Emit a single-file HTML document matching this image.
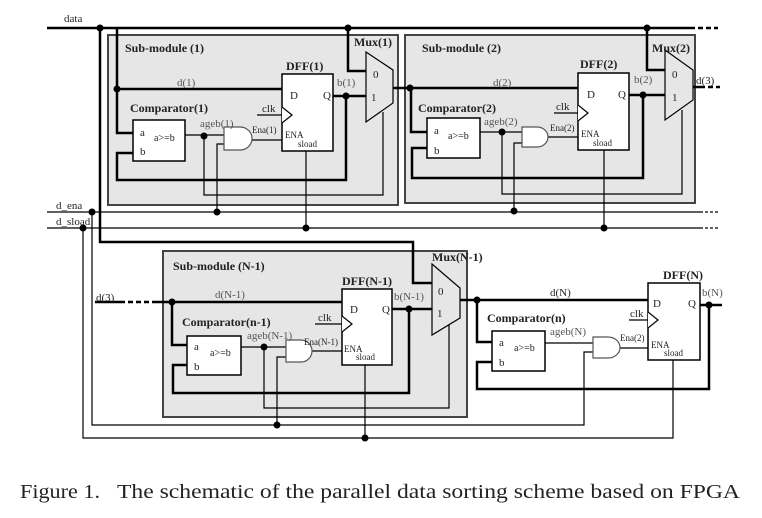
<!DOCTYPE html>
<html><head><meta charset="utf-8"><style>
html,body{margin:0;padding:0;background:#fff;}
svg{display:block;}
text{font-family:"Liberation Serif","Times New Roman",Times,serif;fill:#222;}
.b{font-weight:bold;font-size:12px;}
.s{font-size:11px;}
.g{fill:#555;}
</style></head><body>
<svg width="762" height="518" viewBox="0 0 762 518" xmlns="http://www.w3.org/2000/svg" font-family="Liberation Serif, Times New Roman, serif">
<g fill="#e6e6e6" stroke="#444" stroke-width="2">
<rect x="108" y="35" width="290" height="170"/>
<rect x="405" y="35" width="290" height="168"/>
<rect x="163" y="251" width="304" height="166"/>
</g>
<g fill="none" stroke="#000" stroke-width="2.5">
<line x1="47" y1="28" x2="690" y2="28"/>
<polyline points="100,28 100,242 413,242 413,283 432,283"/>
<polyline points="117,28 117,133 133,133"/>
<line x1="117" y1="89" x2="282" y2="89"/>
<polyline points="348,28 348,71 366,71"/>
<polyline points="333,96 366,96"/>
<polyline points="346,96 346,180 117,180 117,153 133,153"/>
<polyline points="393,88 411,88 578,88"/>
<polyline points="411,88 411,132 427,132"/>
<polyline points="647,28 647,70 665,70"/>
<line x1="629" y1="95" x2="665" y2="95"/>
<polyline points="643,95 643,178 412,178 412,148 427,148"/>
<line x1="693" y1="87" x2="700" y2="87"/>
<line x1="95" y1="302" x2="120" y2="302"/>
<line x1="152" y1="302" x2="342" y2="302"/>
<polyline points="172,302 172,345 187,345"/>
<line x1="392" y1="309" x2="432" y2="309"/>
<polyline points="409,309 409,393 173,393 173,365 187,365"/>
<line x1="460" y1="300" x2="648" y2="300"/>
<polyline points="477,300 477,342 492,342"/>
<line x1="700" y1="305" x2="722" y2="305"/>
<polyline points="709,305 709,389 477,389 477,362 492,362"/>
</g>
<g stroke="#000" stroke-width="2.5" stroke-dasharray="5,3">
<line x1="690" y1="28" x2="718" y2="28"/>
<line x1="700" y1="87" x2="720" y2="87"/>
<line x1="120" y1="302" x2="152" y2="302"/>
</g>
<g fill="none" stroke="#000" stroke-width="1.2">
<line x1="47" y1="212" x2="700" y2="212"/>
<line x1="47" y1="228" x2="700" y2="228"/>
<polyline points="92,212 92,425 584,425 584,352 593,352"/>
<polyline points="83,228 83,438 673,438 673,360"/>
<line x1="185" y1="135" x2="224" y2="135"/>
<polyline points="204,136 204,195 383,195 383,112"/>
<polyline points="226,144 217,144 217,212"/>
<line x1="252" y1="140" x2="282" y2="140"/>
<line x1="306" y1="151" x2="306" y2="228"/>
<line x1="257" y1="115" x2="282" y2="115"/>
<line x1="480" y1="132" x2="522" y2="132"/>
<polyline points="502,132 502,194 682,194 682,110"/>
<polyline points="524,143 514,143 514,211"/>
<line x1="548" y1="137" x2="578" y2="137"/>
<line x1="604" y1="150" x2="604" y2="228"/>
<line x1="554" y1="113" x2="578" y2="113"/>
<line x1="241" y1="347" x2="286" y2="347"/>
<polyline points="264,347 264,408 449,408 449,325"/>
<polyline points="288,357 277,357 277,425"/>
<line x1="312" y1="351" x2="342" y2="351"/>
<line x1="365" y1="365" x2="365" y2="437"/>
<line x1="315" y1="324" x2="342" y2="324"/>
<line x1="545" y1="343" x2="593" y2="343"/>
<line x1="620" y1="348" x2="648" y2="348"/>
<line x1="629" y1="320" x2="648" y2="320"/>
</g>
<g stroke="#000" stroke-width="1.2" stroke-dasharray="3,2">
<line x1="700" y1="212" x2="720" y2="212"/>
<line x1="700" y1="228" x2="720" y2="228"/>
</g>
<g fill="#fff" stroke="#000" stroke-width="1.5">
<rect x="282" y="74" width="51" height="77"/>
<rect x="578" y="73" width="51" height="77"/>
<rect x="342" y="289" width="50" height="76"/>
<rect x="648" y="283" width="52" height="77"/>
<rect x="133" y="120" width="52" height="41"/>
<rect x="427" y="118" width="53" height="40"/>
<rect x="187" y="336" width="54" height="39"/>
<rect x="492" y="331" width="53" height="40"/>
</g>
<g fill="#fff" stroke="#555" stroke-width="1.2">
<path d="M224,127 H240 A12,11.5 0 0 1 240,150 H224 Z"/>
<path d="M522,127 H537 A11,10 0 0 1 537,147 H522 Z"/>
<path d="M286,340 H301 A11,11 0 0 1 301,362 H286 Z"/>
<path d="M593,337 H608 A12,10.5 0 0 1 608,358 H593 Z"/>
</g>
<g fill="#fff" stroke="#000" stroke-width="1.2">
<path d="M282,107 L292,115 L282,123"/>
<path d="M578,105 L588,113 L578,121"/>
<path d="M342,316 L352,324 L342,332"/>
<path d="M648,312 L658,320 L648,328"/>
</g>
<g fill="#e6e6e6" stroke="#000" stroke-width="1.2">
<path d="M366,52 L393,70 L393,103 L366,122 Z"/>
<path d="M665,50 L693,70 L693,100 L665,120 Z"/>
<path d="M432,264 L460,288 L460,318 L432,335 Z"/>
</g>
<g fill="#000">
<circle cx="100" cy="28" r="3.5"/><circle cx="348" cy="28" r="3.5"/><circle cx="647" cy="28" r="3.5"/>
<circle cx="117" cy="89" r="3.5"/><circle cx="346" cy="96" r="3.5"/><circle cx="410" cy="88" r="3.5"/>
<circle cx="643" cy="95" r="3.5"/><circle cx="204" cy="136" r="3.5"/><circle cx="502" cy="132" r="3.5"/>
<circle cx="217" cy="212" r="3.5"/><circle cx="514" cy="211" r="3.5"/><circle cx="306" cy="228" r="3.5"/>
<circle cx="604" cy="228" r="3.5"/><circle cx="92" cy="212" r="3.5"/><circle cx="83" cy="228" r="3.5"/>
<circle cx="172" cy="302" r="3.5"/><circle cx="409" cy="309" r="3.5"/><circle cx="477" cy="300" r="3.5"/>
<circle cx="709" cy="305" r="3.5"/><circle cx="264" cy="347" r="3.5"/><circle cx="277" cy="425" r="3.5"/>
<circle cx="365" cy="438" r="3.5"/>
</g>
<text x="64" y="22" class="s">data</text>
<text x="56" y="209" class="s">d_ena</text>
<text x="56" y="225" class="s">d_sload</text>
<text x="125" y="52" class="b">Sub-module (1)</text>
<text x="422" y="52" class="b">Sub-module (2)</text>
<text x="173" y="270" class="b">Sub-module (N-1)</text>
<text x="286" y="70" class="b">DFF(1)</text>
<text x="580" y="68" class="b">DFF(2)</text>
<text x="342" y="285" class="b">DFF(N-1)</text>
<text x="663" y="279" class="b">DFF(N)</text>
<text x="354" y="46" class="b">Mux(1)</text>
<text x="652" y="52" class="b">Mux(2)</text>
<text x="432" y="261" class="b">Mux(N-1)</text>
<text x="130" y="112" class="b">Comparator(1)</text>
<text x="418" y="112" class="b">Comparator(2)</text>
<text x="182" y="326" class="b">Comparator(n-1)</text>
<text x="487" y="322" class="b">Comparator(n)</text>
<text x="177" y="86" class="s g">d(1)</text>
<text x="493" y="86" class="s g">d(2)</text>
<text x="215" y="298" class="s g">d(N-1)</text>
<text x="550" y="296" class="s">d(N)</text>
<text x="96" y="301" class="s">d(3)</text>
<text x="696" y="84" class="s">d(3)</text>
<text x="337" y="86" class="s g">b(1)</text>
<text x="634" y="83" class="s g">b(2)</text>
<text x="394" y="300" class="s g">b(N-1)</text>
<text x="702" y="296" class="s g">b(N)</text>
<g class="s">
<text x="290" y="99">D</text><text x="323" y="99">Q</text>
<text x="587" y="98">D</text><text x="618" y="98">Q</text>
<text x="350" y="313">D</text><text x="382" y="313">Q</text>
<text x="653" y="307">D</text><text x="688" y="307">Q</text>
<text x="262" y="112">clk</text><text x="556" y="110">clk</text><text x="318" y="321">clk</text><text x="630" y="317">clk</text>
<text x="285" y="138" font-size="9">ENA</text><text x="298" y="147" font-size="9">sload</text>
<text x="581" y="137" font-size="9">ENA</text><text x="593" y="146" font-size="9">sload</text>
<text x="344" y="352" font-size="9">ENA</text><text x="356" y="360" font-size="9">sload</text>
<text x="651" y="348" font-size="9">ENA</text><text x="664" y="356" font-size="9">sload</text>
<text x="140" y="136">a</text><text x="140" y="155">b</text><text x="154" y="141" font-size="10">a&gt;=b</text>
<text x="434" y="134">a</text><text x="434" y="154">b</text><text x="448" y="139" font-size="10">a&gt;=b</text>
<text x="194" y="350">a</text><text x="194" y="370">b</text><text x="210" y="356" font-size="10">a&gt;=b</text>
<text x="499" y="346">a</text><text x="499" y="366">b</text><text x="514" y="351" font-size="10">a&gt;=b</text>
<text x="200" y="127" class="g">ageb(1)</text><text x="484" y="125" class="g">ageb(2)</text>
<text x="247" y="339" class="g">ageb(N-1)</text><text x="550" y="335" class="g">ageb(N)</text>
<text x="252" y="133" font-size="9">Ena(1)</text><text x="550" y="131" font-size="9">Ena(2)</text>
<text x="304" y="345" font-size="9">Ena(N-1)</text><text x="620" y="341" font-size="9">Ena(2)</text>
<text x="373" y="78">0</text><text x="371" y="101">1</text>
<text x="672" y="78">0</text><text x="672" y="101">1</text>
<text x="438" y="295">0</text><text x="437" y="317">1</text>
</g>
<text x="20" y="498" font-size="20" textLength="80" lengthAdjust="spacingAndGlyphs">Figure 1.</text>
<text x="117" y="498" font-size="20" textLength="623" lengthAdjust="spacingAndGlyphs">The schematic of the parallel data sorting scheme based on FPGA</text>
</svg>
</body></html>
